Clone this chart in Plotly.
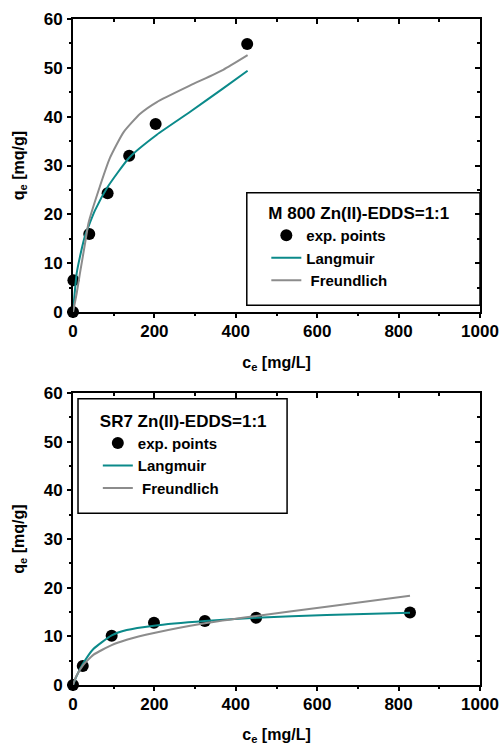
import plotly.graph_objects as go

# ---------------- data ----------------
# top panel: M 800
m800_exp_x = [0, 1, 40, 85, 138, 203, 428]
m800_exp_y = [0, 6.5, 16.0, 24.3, 32.0, 38.5, 54.9]
m800_lang_x = [0, 9, 17, 29.5, 38, 54, 85, 138, 206, 288, 369, 429]
m800_lang_y = [0, 7.9, 11.3, 15.6, 17.5, 20.8, 25.6, 31.6, 36.3, 41.0, 45.8, 49.4]
m800_freu_x = [0, 9, 17, 29.5, 38, 66, 91, 124, 165, 206, 288, 369, 429]
m800_freu_y = [0, 3.8, 7.9, 14.0, 18.2, 25.7, 31.6, 36.8, 40.6, 43.0, 46.4, 49.6, 52.6]

# bottom panel: SR7
sr7_exp_x = [0, 24, 95, 199, 324, 450, 828]
sr7_exp_y = [0, 3.9, 10.1, 12.8, 13.15, 13.8, 14.9]
sr7_lang_x = [0, 8, 24, 50, 95, 132, 199, 324, 450, 623, 828]
sr7_lang_y = [0, 1.7, 4.3, 7.4, 10.2, 11.3, 12.2, 13.15, 13.8, 14.4, 14.85]
sr7_freu_x = [0, 8, 24, 50, 95, 132, 199, 324, 450, 623, 828]
sr7_freu_y = [0, 1.8, 4.0, 6.2, 8.2, 9.3, 10.7, 12.7, 14.2, 16.1, 18.35]

x_ticks = [0, 200, 400, 600, 800, 1000]
x_minor_ticks = [100, 300, 500, 700, 900]
y_ticks = [0, 10, 20, 30, 40, 50, 60]
y_minor_ticks = [5, 15, 25, 35, 45, 55]

top_title = "M 800 Zn(II)-EDDS=1:1"
bottom_title = "SR7 Zn(II)-EDDS=1:1"
names = ["exp. points", "Langmuir", " Freundlich"]

TEAL = "#0b8a8a"
GRAY = "#8c8c8c"
FONT = "Liberation Sans, Arial, sans-serif"

TOP_DOM = [0.560, 1.0]
BOT_DOM = [0.0, 0.4384]

fig = go.Figure()

def add_panel(xa, ya, leg, ex, ey, lx, ly, fx, fy):
    fig.add_trace(go.Scatter(x=ex, y=ey, mode="markers", name=names[0],
                             marker=dict(color="black", size=12),
                             xaxis=xa, yaxis=ya, legend=leg, cliponaxis=False))
    fig.add_trace(go.Scatter(x=lx, y=ly, mode="lines", name=names[1],
                             line=dict(color=TEAL, width=2, shape="spline", smoothing=0.5),
                             xaxis=xa, yaxis=ya, legend=leg))
    fig.add_trace(go.Scatter(x=fx, y=fy, mode="lines", name=names[2],
                             line=dict(color=GRAY, width=2, shape="spline", smoothing=0.5),
                             xaxis=xa, yaxis=ya, legend=leg))

add_panel("x", "y", "legend", m800_exp_x, m800_exp_y, m800_lang_x, m800_lang_y,
          m800_freu_x, m800_freu_y)
add_panel("x2", "y2", "legend2", sr7_exp_x, sr7_exp_y, sr7_lang_x, sr7_lang_y,
          sr7_freu_x, sr7_freu_y)

tick_font = dict(family=FONT, size=17, color="black", weight="bold")
title_font = dict(family=FONT, size=16, color="black", weight="bold")

# main axes: labels, frame and titles (tick marks come from the twin axes below)
def xaxis_main(anchor):
    return dict(range=[0, 1000], tickmode="array", tickvals=x_ticks, ticks="",
                showline=True, linewidth=2, linecolor="black", mirror=True,
                showgrid=False, zeroline=False, tickfont=tick_font, anchor=anchor,
                automargin=False, ticklabelstandoff=3, domain=[0, 1],
                title=dict(text="c<sub>e</sub> [mg/L]", font=title_font, standoff=16))

def yaxis_main(domain, anchor):
    return dict(range=[0, 60], tickmode="array", tickvals=y_ticks, ticks="",
                showline=True, linewidth=2, linecolor="black", mirror=True,
                showgrid=False, zeroline=False, tickfont=tick_font, domain=domain,
                anchor=anchor, automargin=False, ticklabelstandoff=5,
                title=dict(text="q<sub>e</sub> [mq/g]", font=title_font, standoff=15))

def x_twin(anchor, side, ticks, vals, length):
    return dict(range=[0, 1000], domain=[0, 1], anchor=anchor, side=side,
                tickmode="array", tickvals=vals, ticks=ticks, ticklen=length,
                tickwidth=2, tickcolor="black", showticklabels=False,
                showline=False, showgrid=False, zeroline=False, automargin=False)

def y_twin(domain, anchor, side, ticks, vals, length):
    return dict(range=[0, 60], domain=domain, anchor=anchor, side=side,
                tickmode="array", tickvals=vals, ticks=ticks, ticklen=length,
                tickwidth=2, tickcolor="black", showticklabels=False,
                showline=False, showgrid=False, zeroline=False, automargin=False)

layout_axes = dict(
    xaxis=xaxis_main("y"),
    yaxis=yaxis_main(TOP_DOM, "x"),
    xaxis2=xaxis_main("y2"),
    yaxis2=yaxis_main(BOT_DOM, "x2"),
)

# twin subplots carrying the tick marks
twin_specs = [
    # (axis number, domain, side_x, side_y, ticks, x vals, y vals, length)
    (3, TOP_DOM, "top", "right", "inside", x_ticks, y_ticks, 5),
    (4, BOT_DOM, "top", "right", "inside", x_ticks, y_ticks, 5),
    (5, TOP_DOM, "top", "right", "inside", x_minor_ticks, y_minor_ticks, 3),
    (6, BOT_DOM, "top", "right", "inside", x_minor_ticks, y_minor_ticks, 3),
    (7, TOP_DOM, "bottom", "left", "outside", x_minor_ticks, y_minor_ticks, 3),
    (8, BOT_DOM, "bottom", "left", "outside", x_minor_ticks, y_minor_ticks, 3),
    (9, TOP_DOM, "bottom", "left", "outside", x_ticks, y_ticks, 5),
    (10, BOT_DOM, "bottom", "left", "outside", x_ticks, y_ticks, 5),
]
for n, dom, sx, sy, tk, xv, yv, ln in twin_specs:
    layout_axes["xaxis%d" % n] = x_twin("y%d" % n, sx, tk, xv, ln)
    layout_axes["yaxis%d" % n] = y_twin(dom, "x%d" % n, sy, tk, yv, ln)
    fig.add_trace(go.Scatter(x=[500], y=[30], xaxis="x%d" % n, yaxis="y%d" % n,
                             mode="markers", marker=dict(opacity=0, size=1),
                             showlegend=False, hoverinfo="skip"))

legend_font = dict(family=FONT, size=15, color="black", weight="bold")
legend_title_font = dict(family=FONT, size=17, color="black", weight="bold")

fig.update_layout(
    template="none",
    width=501, height=745,
    margin=dict(l=73, r=21, t=19, b=60),
    paper_bgcolor="white", plot_bgcolor="rgba(0,0,0,0)",
    legend=dict(x=0.475, y=0.733, xanchor="left", yanchor="top",
                bgcolor="rgba(0,0,0,0)", borderwidth=0, font=legend_font,
                title=dict(text=top_title, font=legend_title_font),
                tracegroupgap=0),
    legend2=dict(x=0.061, y=0.421, xanchor="left", yanchor="top",
                 bgcolor="rgba(0,0,0,0)", borderwidth=0, font=legend_font,
                 title=dict(text=bottom_title, font=legend_title_font),
                 tracegroupgap=0),
    showlegend=True,
    shapes=[
        dict(type="rect", xref="x", yref="y", x0=427, x1=1000, y0=1.4, y1=24.4,
             line=dict(color="black", width=1.5), fillcolor="rgba(0,0,0,0)"),
        dict(type="rect", xref="x2", yref="y2", x0=12.3, x1=526, y0=35.3, y1=58.8,
             line=dict(color="black", width=1.5), fillcolor="rgba(0,0,0,0)"),
    ],
    **layout_axes,
)

fig.write_html("out.html")
